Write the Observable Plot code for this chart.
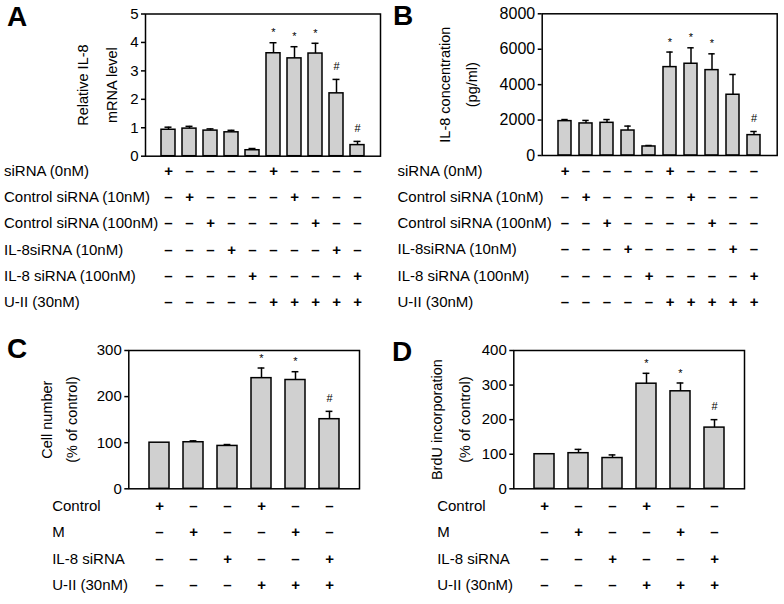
<!DOCTYPE html>
<html>
<head>
<meta charset="utf-8">
<script src="https://cdn.jsdelivr.net/npm/d3@7"></script>
<script src="https://cdn.jsdelivr.net/npm/@observablehq/plot@0.6"></script>
<style>
  html, body { margin: 0; padding: 0; background: #fff; }
  #root { position: relative; width: 784px; height: 604px; overflow: hidden; font-family: "Liberation Sans", Arial, sans-serif; }
  .panel { position: absolute; }
  .letter { position: absolute; font-weight: bold; font-size: 28px; line-height: 32px; color: #000; padding: 0 2px; }
</style>
</head>
<body>
<div id="root">
  <div class="panel" id="pA" style="left:0;top:0"></div>
  <div class="panel" id="pB" style="left:392px;top:0"></div>
  <div class="panel" id="pC" style="left:0;top:320px"></div>
  <div class="panel" id="pD" style="left:392px;top:320px"></div>
  <div class="letter" style="left:5px;top:1px">A</div>
  <div class="letter" style="left:391px;top:0px">B</div>
  <div class="letter" style="left:5px;top:333px">C</div>
  <div class="letter" style="left:390px;top:336px">D</div>
</div>
<script>
// ---------- data ----------
const groupsAB = [1, 2, 3, 4, 5, 6, 7, 8, 9, 10];
const rowLabelsAB = ["siRNA (0nM)", "Control siRNA (10nM)", "Control siRNA (100nM)", "IL-8siRNA (10nM)", "IL-8 siRNA (100nM)", "U-II (30nM)"];
const signsAB = [
  ["+", "–", "–", "–", "–", "+", "–", "–", "–", "–"],
  ["–", "+", "–", "–", "–", "–", "+", "–", "–", "–"],
  ["–", "–", "+", "–", "–", "–", "–", "+", "–", "–"],
  ["–", "–", "–", "+", "–", "–", "–", "–", "+", "–"],
  ["–", "–", "–", "–", "+", "–", "–", "–", "–", "+"],
  ["–", "–", "–", "–", "–", "+", "+", "+", "+", "+"]
];
const meanA = [0.93, 0.97, 0.90, 0.84, 0.21, 3.62, 3.44, 3.61, 2.21, 0.39];
const errA = [0.09, 0.08, 0.06, 0.07, 0.06, 0.37, 0.41, 0.36, 0.49, 0.13];
const markA = ["", "", "", "", "", "*", "*", "*", "#", "#"];
const ticksA = [0, 1, 2, 3, 4, 5];

const meanB = [1940, 1810, 1845, 1410, 510, 4990, 5180, 4820, 3430, 1150];
const errB = [90, 170, 185, 250, 55, 850, 900, 920, 1145, 205];
const markB = ["", "", "", "", "", "*", "*", "*", "", "#"];
const ticksB = [0, 2000, 4000, 6000, 8000];

const groupsCD = [1, 2, 3, 4, 5, 6];
const rowLabelsCD = ["Control", "M", "IL-8 siRNA", "U-II (30nM)"];
const signsCD = [
  ["+", "–", "–", "+", "–", "–"],
  ["–", "+", "–", "–", "+", "–"],
  ["–", "–", "+", "–", "–", "+"],
  ["–", "–", "–", "+", "+", "+"]
];
const meanC = [100, 101, 93, 240, 236, 151];
const errC = [0, 3, 3, 22, 18, 17];
const markC = ["", "", "", "*", "*", "#"];
const ticksC = [0, 100, 200, 300];

const meanD = [100, 103, 89, 304, 282, 177];
const errD = [0, 11, 9, 30, 24, 23];
const markD = ["", "", "", "*", "*", "#"];
const ticksD = [0, 100, 200, 300, 400];

// ---------- drawing ----------
const FONT = "'Liberation Sans', Arial, Helvetica, sans-serif";

function panel(cfg) {
  const data = cfg.groups.map((g, i) => ({g, v: cfg.mean[i], top: cfg.mean[i] + cfg.err[i], m: cfg.mark[i]}));
  const marks = [
    Plot.barY(data, {x: "g", y: "v", fill: "#d0d0d0", stroke: "#000", strokeWidth: 1.5}),
    Plot.ruleX(data.filter(d => d.top > d.v), {x: "g", y1: "v", y2: "top", stroke: "#000", strokeWidth: 1.5}),
    Plot.tickY(data.filter(d => d.top > d.v), {x: "g", y: "top", stroke: "#000", strokeWidth: 1.5, insetLeft: cfg.capInset, insetRight: cfg.capInset}),
    Plot.text(data.filter(d => d.m === "*"), {x: "g", y: "top", text: "m", dy: -10, fontSize: 11}),
    Plot.text(data.filter(d => d.m === "#"), {x: "g", y: "top", text: "m", dy: -13, fontSize: 11}),
    Plot.frame({stroke: "#000", strokeWidth: 1.5}),
    Plot.axisY({ticks: cfg.ticks, tickFormat: d => String(d), tickSize: 4, tickPadding: 3, fontSize: cfg.tickFont, label: null, strokeWidth: 1.5}),
    Plot.text([cfg.ylab[0]], {frameAnchor: "left", textAnchor: "middle", rotate: -90, dx: cfg.ylabDx[0], fontSize: 14.5}),
    Plot.text([cfg.ylab[1]], {frameAnchor: "left", textAnchor: "middle", rotate: -90, dx: cfg.ylabDx[1], fontSize: 14.5})
  ];
  cfg.rowLabels.forEach((lab, r) => {
    const dy = cfg.rowDy0 + r * cfg.rowStep;
    marks.push(Plot.text([lab], {frameAnchor: "bottom-left", textAnchor: "start", dx: cfg.labelDx, dy, fontSize: 15}));
    marks.push(Plot.text(cfg.groups, {x: d => d, frameAnchor: "bottom", text: (d, i) => cfg.signs[r][i], dy, fontSize: 15, fontWeight: "bold"}));
  });
  return Plot.plot({
    width: cfg.width, height: cfg.height,
    marginLeft: cfg.ml, marginRight: cfg.mr, marginTop: cfg.mt, marginBottom: cfg.mb,
    style: {fontFamily: FONT, fontSize: "14px", background: "transparent", overflow: "visible", color: "#000"},
    x: {type: "band", domain: cfg.groups, paddingInner: cfg.pi, paddingOuter: cfg.po, axis: null},
    y: {domain: [cfg.ticks[0], cfg.ticks[cfg.ticks.length - 1]], axis: null},
    marks
  });
}

document.getElementById("pA").appendChild(panel({
  groups: groupsAB, mean: meanA, err: errA, mark: markA, ticks: ticksA, tickFont: 15,
  ylab: ["Relative IL-8", "mRNA level"], ylabDx: [-62, -33],
  rowLabels: rowLabelsAB, signs: signsAB, rowDy0: 19.5, rowStep: 26.3, labelDx: -141.5,
  width: 392, height: 320, ml: 145, mr: 12, mt: 13.5, mb: 164.3, pi: 0.34, po: 0.71, capInset: 3.5
}));
document.getElementById("pB").appendChild(panel({
  groups: groupsAB, mean: meanB, err: errB, mark: markB, ticks: ticksB, tickFont: 16,
  ylab: ["IL-8 concentration", "(pg/ml)"], ylabDx: [-96.7, -70],
  rowLabels: rowLabelsAB, signs: signsAB, rowDy0: 20, rowStep: 26.3, labelDx: -144.7,
  width: 392, height: 320, ml: 149.7, mr: 7.3, mt: 13.3, mb: 165, pi: 0.37, po: 0.71, capInset: 3.3
}));
document.getElementById("pC").appendChild(panel({
  groups: groupsCD, mean: meanC, err: errC, mark: markC, ticks: ticksC, tickFont: 15,
  ylab: ["Cell number", "(% of control)"], ylabDx: [-81.6, -56.6],
  rowLabels: rowLabelsCD, signs: signsCD, rowDy0: 21.7, rowStep: 26.5, labelDx: -76.6,
  width: 392, height: 284, ml: 128.3, mr: 33, mt: 30, mb: 115.7, pi: 0.41, po: 0.54, capInset: 6.6
}));
document.getElementById("pD").appendChild(panel({
  groups: groupsCD, mean: meanD, err: errD, mark: markD, ticks: ticksD, tickFont: 15,
  ylab: ["BrdU incorporation", "(% of control)"], ylabDx: [-76.6, -48.3],
  rowLabels: rowLabelsCD, signs: signsCD, rowDy0: 21.7, rowStep: 26.5, labelDx: -76.6,
  width: 392, height: 284, ml: 121.3, mr: 40, mt: 30, mb: 115.7, pi: 0.42, po: 0.535, capInset: 6.6
}));
</script>
</body>
</html>
